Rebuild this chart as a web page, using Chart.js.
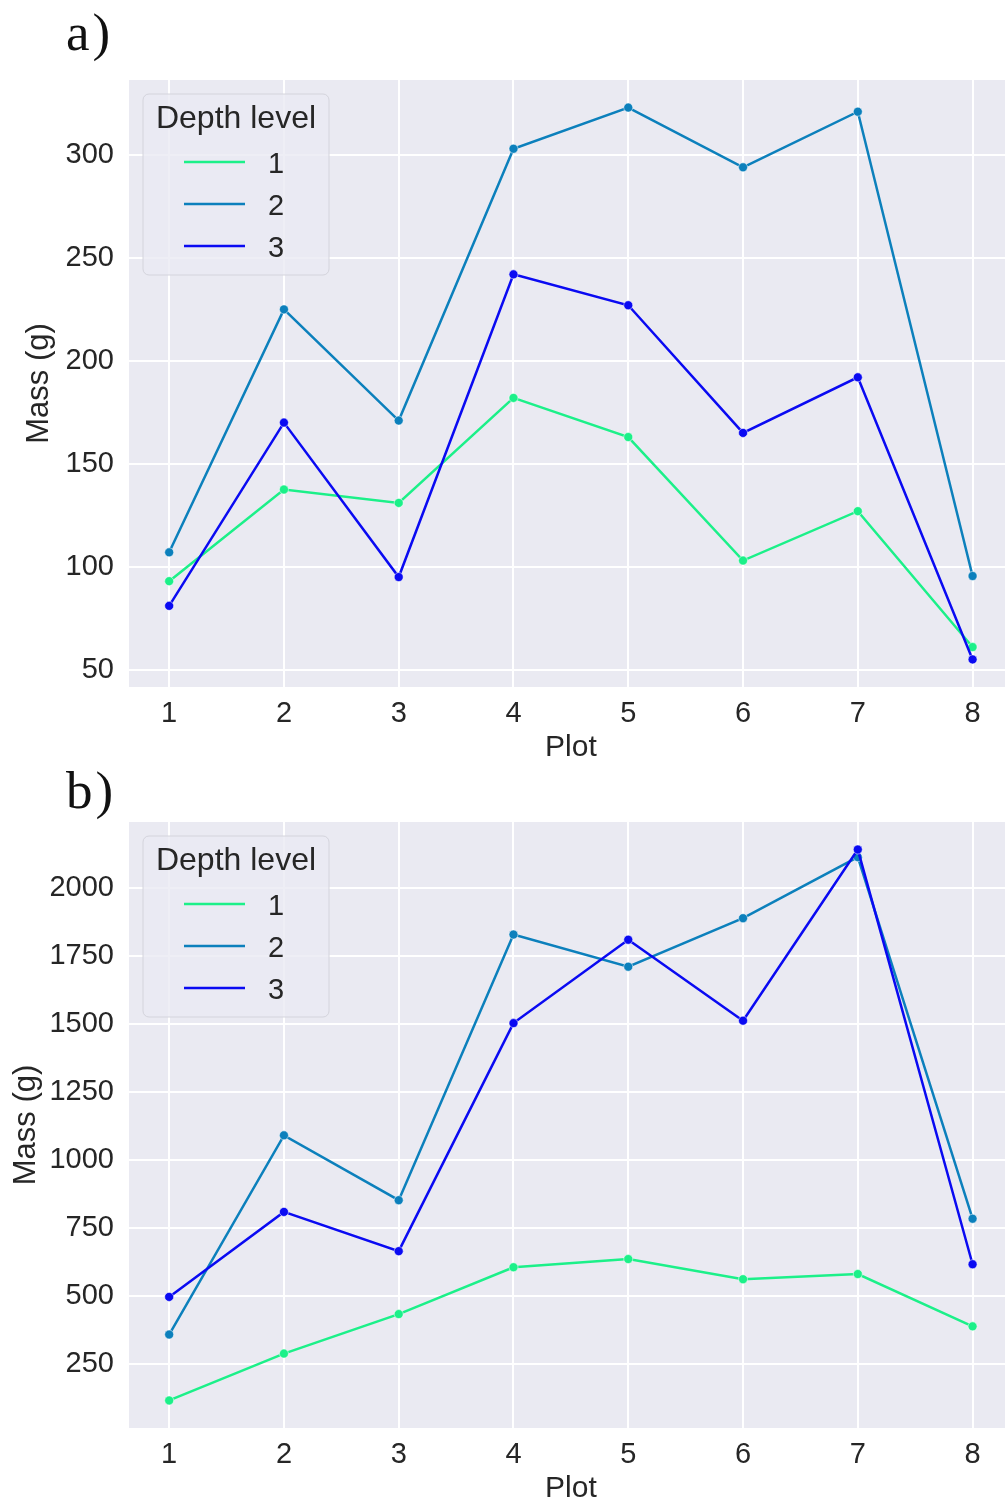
<!DOCTYPE html>
<html>
<head>
<meta charset="utf-8">
<script src="https://cdn.jsdelivr.net/npm/chart.js@4.4.1/dist/chart.umd.min.js"></script>
<style>
  html, body { margin: 0; padding: 0; background: #ffffff; overflow: hidden; width: 1005px; height: 1505px; }
  .panel { position: absolute; left: 0; width: 1018px; }
  .plabel { position: absolute; left: 66px; font-family: "Liberation Serif", "DejaVu Serif", serif; font-size: 53px; line-height: 53px; letter-spacing: 3px; color: #111; }
</style>
</head>
<body>
<div class="plabel" style="top:6px;">a)</div>
<div class="plabel" style="top:764px;">b)</div>
<div class="panel" style="top:0px; height:760px;"><canvas id="chartA" width="1018" height="760" style="width:1018px;height:760px;"></canvas></div>
<div class="panel" style="top:760px; height:745px;"><canvas id="chartB" width="1018" height="745" style="width:1018px;height:745px;"></canvas></div>
<script>
// ---------------- data ----------------
const plots = [1, 2, 3, 4, 5, 6, 7, 8];
const depthLevels = ['1', '2', '3'];
const legendTitle = 'Depth level';
const xAxisTitle = 'Plot';
const yAxisTitle = 'Mass (g)';

// panel a)
const massA_level1 = [93, 137.5, 131, 182, 163, 103, 127, 61];
const massA_level2 = [107, 225, 171, 303, 323, 294, 321, 95.5];
const massA_level3 = [81, 170, 95, 242, 227, 165, 192, 55];
const yTicksA = [50, 100, 150, 200, 250, 300];

// panel b)
const massB_level1 = [118, 290, 435, 607, 637, 563, 582, 390];
const massB_level2 = [360, 1091, 853, 1828, 1710, 1888, 2112, 785];
const massB_level3 = [498, 810, 666, 1503, 1809, 1512, 2140, 618];
const yTicksB = [250, 500, 750, 1000, 1250, 1500, 1750, 2000];

const levelColors = ['#1cf089', '#0c80bc', '#0a0af2'];

// ---------------- helpers ----------------
const TEXT = '#262626';
const FONT = '"Liberation Sans", Arial, sans-serif';

function toPoints(values) {
  return plots.map((p, i) => ({ x: p, y: values[i] }));
}
function margin(series) {
  const all = [].concat(...series);
  const mn = Math.min(...all), mx = Math.max(...all);
  const m = (mx - mn) * 0.05;
  return { min: mn - m, max: mx + m };
}

const bgPlugin = {
  id: 'bg',
  beforeDraw(chart) {
    const { ctx, chartArea: a } = chart;
    ctx.save();
    ctx.fillStyle = '#eaeaf2';
    ctx.fillRect(a.left, a.top, a.right - a.left, a.bottom - a.top);
    ctx.restore();
  }
};

const legendPlugin = {
  id: 'boxLegend',
  afterDatasetsDraw(chart) {
    const { ctx, chartArea: a } = chart;
    const x = a.left + 14, y = a.top + 14, w = 186, h = 181, r = 6;
    ctx.save();
    ctx.beginPath();
    ctx.moveTo(x + r, y);
    ctx.arcTo(x + w, y, x + w, y + h, r);
    ctx.arcTo(x + w, y + h, x, y + h, r);
    ctx.arcTo(x, y + h, x, y, r);
    ctx.arcTo(x, y, x + w, y, r);
    ctx.closePath();
    ctx.fillStyle = 'rgba(234,234,242,0.8)';
    ctx.fill();
    ctx.lineWidth = 1;
    ctx.strokeStyle = '#d4d4dc';
    ctx.stroke();

    ctx.fillStyle = TEXT;
    ctx.font = '32px ' + FONT;
    ctx.textAlign = 'center';
    ctx.textBaseline = 'alphabetic';
    ctx.fillText(legendTitle, x + w / 2, y + 34);

    ctx.font = '29px ' + FONT;
    ctx.textAlign = 'left';
    chart.data.datasets.forEach((ds, i) => {
      const ly = y + 68 + i * 42;
      ctx.beginPath();
      ctx.moveTo(x + 41, ly);
      ctx.lineTo(x + 102, ly);
      ctx.strokeStyle = ds.borderColor;
      ctx.lineWidth = 2.5;
      ctx.stroke();
      ctx.fillStyle = TEXT;
      ctx.fillText(ds.label, x + 125, ly + 10.5);
    });
    ctx.restore();
  }
};

function makeChart(id, series, yTicks, opts) {
  const yr = margin(series);
  const datasets = series.map((vals, i) => ({
    label: depthLevels[i],
    data: toPoints(vals),
    borderColor: levelColors[i],
    backgroundColor: levelColors[i],
    pointBackgroundColor: levelColors[i],
    pointBorderColor: 'rgba(255,255,255,0.7)',
    pointBorderWidth: 0.75,
    pointRadius: 4.5,
    borderWidth: 2.5,
    tension: 0,
    order: 3 - i
  }));
  return new Chart(document.getElementById(id), {
    type: 'line',
    data: { datasets },
    options: {
      responsive: false,
      maintainAspectRatio: false,
      animation: false,
      layout: { padding: { top: opts.top, left: 0, right: 0, bottom: 0 } },
      plugins: { legend: { display: false }, tooltip: { enabled: false } },
      scales: {
        x: {
          type: 'linear',
          min: 0.65,
          max: 8.35,
          afterBuildTicks(scale) { scale.ticks = plots.map(v => ({ value: v })); },
          afterFit(scale) { scale.height = opts.xh; },
          grid: { color: '#ffffff', lineWidth: 2, drawTicks: false },
          border: { display: false },
          ticks: { color: TEXT, font: { family: FONT, size: 29 }, padding: opts.xtPad, maxRotation: 0,
                   callback: v => String(v) },
          title: { display: true, text: xAxisTitle, color: TEXT,
                   font: { family: FONT, size: 30, lineHeight: opts.xtLH }, padding: { top: 0, bottom: 0 } }
        },
        y: {
          type: 'linear',
          min: yr.min,
          max: yr.max,
          afterBuildTicks(scale) { scale.ticks = yTicks.map(v => ({ value: v })); },
          afterFit(scale) { scale.width = 129; },
          grid: { color: '#ffffff', lineWidth: 2, drawTicks: false },
          border: { display: false },
          ticks: { color: TEXT, font: { family: FONT, size: 29 }, padding: 15,
                   callback: v => String(v) },
          title: { display: true, text: yAxisTitle, color: TEXT,
                   font: { family: FONT, size: 31, lineHeight: 1.2 }, padding: { top: opts.ytPad, bottom: 0 } }
        }
      }
    },
    plugins: [bgPlugin, legendPlugin]
  });
}

makeChart('chartA', [massA_level1, massA_level2, massA_level3], yTicksA,
          { top: 80, xh: 73, xtLH: 0.8, xtPad: 10, ytPad: 21 });
makeChart('chartB', [massB_level1, massB_level2, massB_level3], yTicksB,
          { top: 62, xh: 77, xtLH: 1.08, xtPad: 10, ytPad: 8 });
</script>
</body>
</html>
